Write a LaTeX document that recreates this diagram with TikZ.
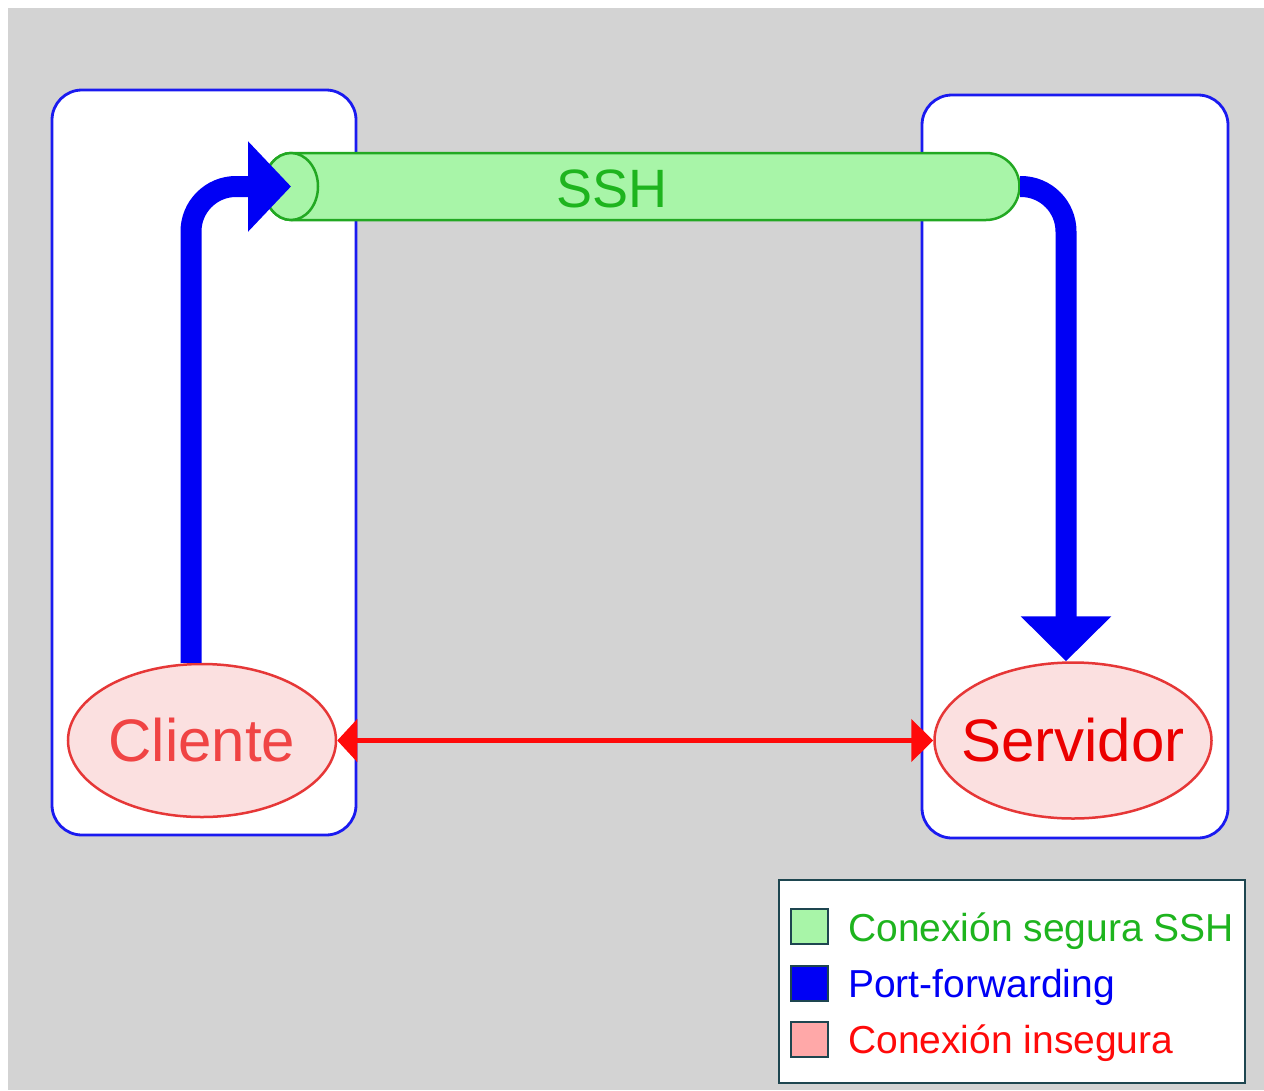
\documentclass[tikz,border=0pt]{standalone}
\usepackage{fontspec}
\setmainfont{Liberation Sans}
\usetikzlibrary{arrows.meta,positioning,shapes.geometric}
\definecolor{bgray}{HTML}{D3D3D3}
\definecolor{hostblue}{HTML}{1A1AF0}
\definecolor{fwdblue}{HTML}{0000F5}
\definecolor{tubefill}{HTML}{A8F5A8}
\definecolor{tubeline}{HTML}{22A822}
\definecolor{sshgreen}{HTML}{1EB41E}
\definecolor{epfill}{HTML}{FBE0E0}
\definecolor{epline}{HTML}{E63737}
\definecolor{clitext}{HTML}{F04444}
\definecolor{plainred}{HTML}{FF0A0A}
\definecolor{swpink}{HTML}{FFA8A8}
\definecolor{legline}{HTML}{1E4650}
\newcommand\ctrtext[1]{\makebox[0pt]{#1}}
\tikzset{
 host/.style={draw=hostblue,line width=2.8pt,fill=white,rounded corners=30pt,inner sep=0},
 endpt/.style={ellipse,draw=epline,line width=2.5pt,fill=epfill,inner sep=0,font=\fontsize{60}{66}\selectfont},
 fwd/.style={fwdblue,line width=21pt,rounded corners=45pt},
 swatch/.style={draw=legline,line width=2pt,minimum width=37pt,minimum height=35pt,inner sep=0},
 legtxt/.style={anchor=base west,inner sep=0,font=\fontsize{39}{44}\selectfont}
}
\begin{document}
\begin{tikzpicture}[x=1pt,y=1pt]
\fill[white] (0,0) rectangle (1264,-1090);\fill[bgray] (8,-8) rectangle (1264,-1090);
% hosts
\node[host,minimum width=304pt,minimum height=745pt] (clibox) at (204,-462.5) {};
\node[host,minimum width=306pt,minimum height=743pt] (srvbox) at (1075,-466.5) {};
\node[endpt,minimum width=268pt,minimum height=153pt,text=clitext] (cli) at (202,-740.5) {\ctrtext{Cliente}};
\node[endpt,minimum width=277pt,minimum height=156pt,text=red!92!black] (srv) at (1073,-740.5) {\ctrtext{Servidor}};
% tunnel
\coordinate (tubeL) at (291,-186.5);\coordinate (tubeR) at (1020,-186.5);
\filldraw[fill=tubefill,draw=tubeline,line width=2.5pt] (291,-153) -- (986,-153) arc (90:-90:33.5) -- (291,-220) arc (270:90:27 and 33.5) -- cycle;
\filldraw[fill=tubefill,draw=tubeline,line width=2.5pt] (tubeL) ellipse (27 and 33.5);
\node[font=\fontsize{54}{60}\selectfont,text=sshgreen,inner sep=0] (ssh) at (612,-189) {SSH};
\draw[fwd,-{Triangle[length=43pt,width=88pt]}] ([xshift=-11pt]cli.north) |- (tubeL);
\draw[fwd,-{Triangle[length=45pt,width=88pt]}] (tubeR) -| ([xshift=-7pt]srv.north);
\draw[plainred,line width=5pt,{Triangle[length=20pt,width=42pt]}-{Triangle[length=22pt,width=42pt]}] (cli.east) -- (srv.west);
% legend
\node[draw=legline,line width=2.5pt,fill=white,minimum width=466pt,minimum height=203pt,inner sep=0] (legend) at (1012,-981.5) {};
\node[swatch,fill=tubefill] (sw1) at (809.5,-926.5) {};
\node[swatch,fill=fwdblue,below=19.5pt of sw1] (sw2) {};
\node[swatch,fill=swpink,below=19.5pt of sw2] (sw3) {};
\node[legtxt,text=sshgreen] (lt1) at ([xshift=19pt,yshift=4pt]sw1.south east) {Conexión segura SSH};
\node[legtxt,text=fwdblue] (lt2) at ([xshift=19pt,yshift=4.5pt]sw2.south east) {Port-forwarding};
\node[legtxt,text=plainred] (lt3) at ([xshift=19pt,yshift=5pt]sw3.south east) {Conexión insegura};
\end{tikzpicture}
\end{document}
